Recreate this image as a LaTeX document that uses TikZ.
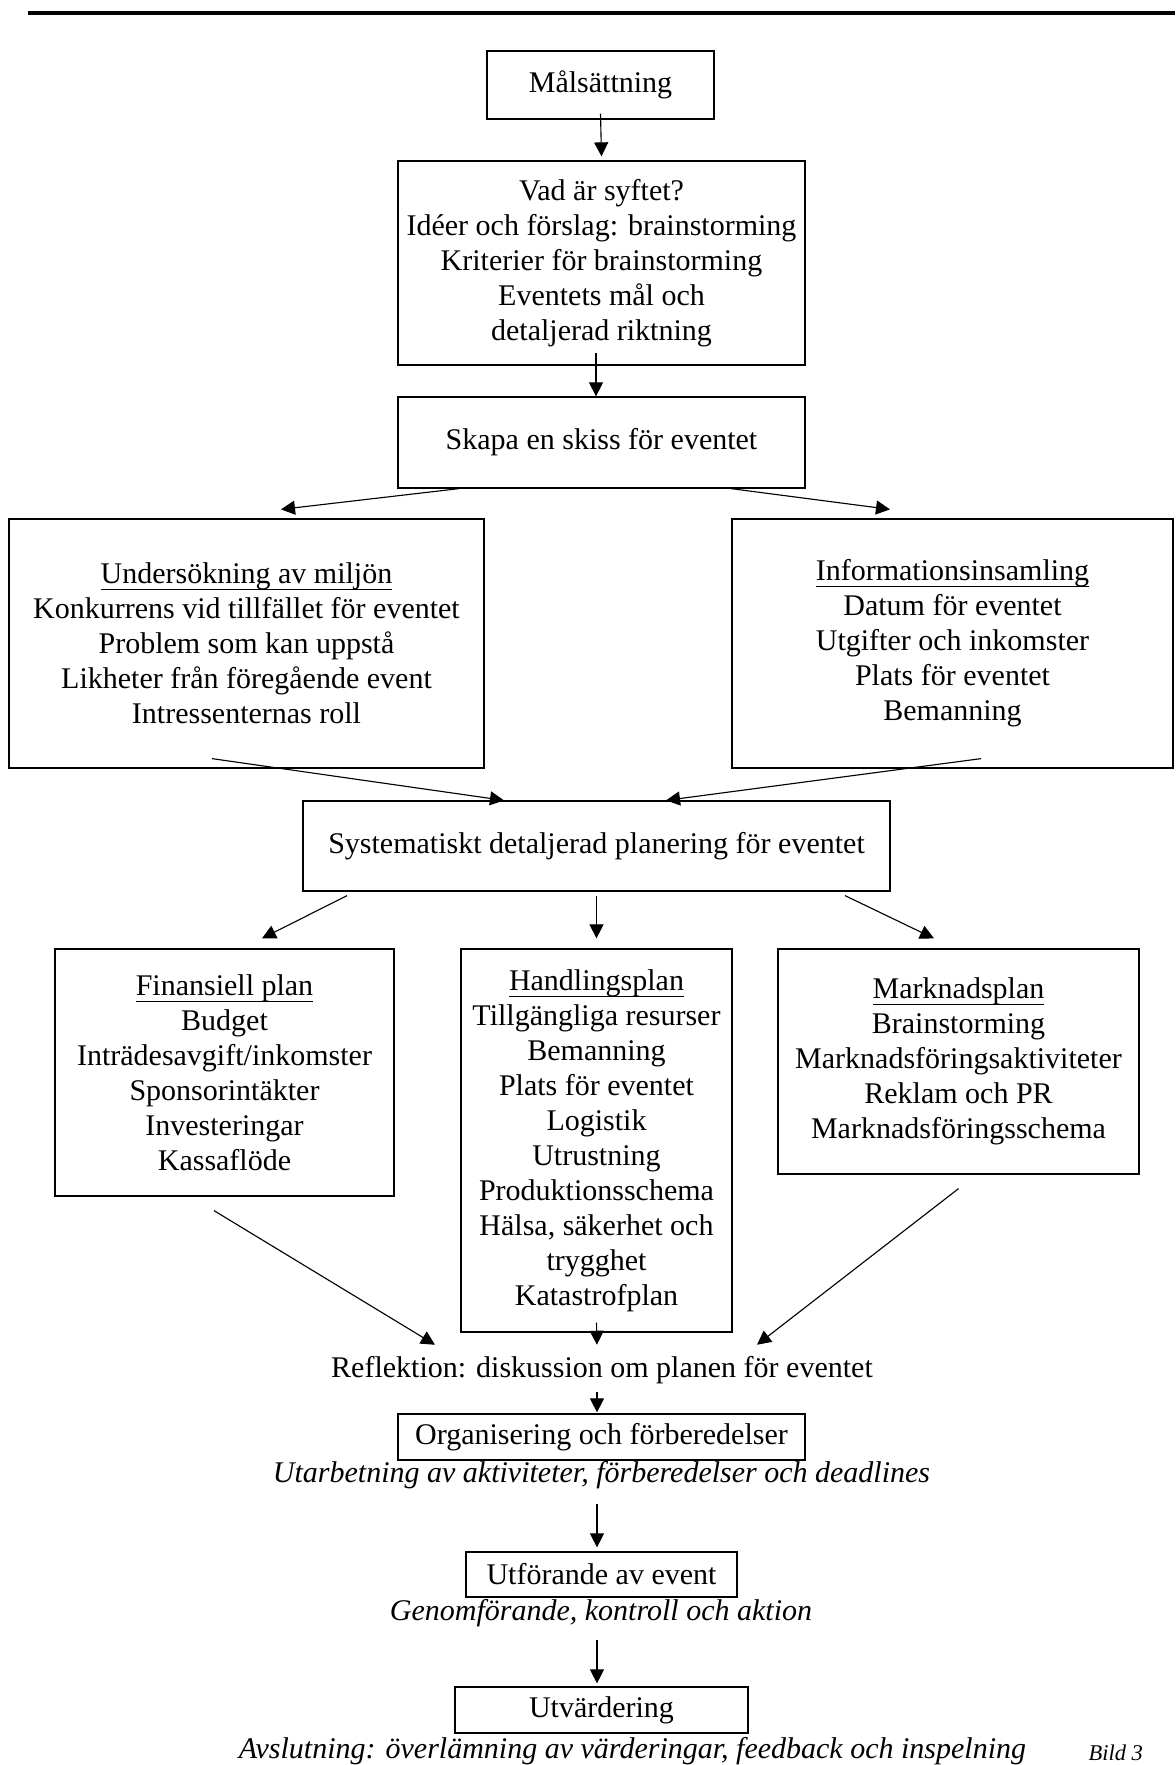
\documentclass[tikz,border=0pt]{standalone}
\usepackage{fontspec}
\setmainfont{Liberation Serif}
\usetikzlibrary{arrows.meta}
\newcommand{\hul}[1]{\setbox0\hbox{#1}\rlap{\rule[-2.6pt]{\wd0}{0.4pt}}\box0}

\begin{document}
\begin{tikzpicture}[x=0.4pt,y=-0.4pt,
  every node/.style={font=\fontsize{12pt}{14pt}\selectfont},
  box/.style={draw,line width=0.5pt,align=center,inner sep=0pt},
  note/.style={inner sep=0pt,font=\fontsize{12pt}{14pt}\selectfont\itshape},
  arr/.style={-{Triangle[length=5.6pt,width=5.6pt]},line width=0.45pt}]
\useasboundingbox (0,0) rectangle (1175,1765);

% header rule
\draw[line width=1.3pt] (28,13) -- (1175,13);

% aim and first sketch
\node[box,minimum width=90.8pt,minimum height=27.2pt] (mal) at (600.5,85) {Målsättning};
\node[box,minimum width=162.8pt,minimum height=81.6pt] (syfte) at (601.5,263)
  {Vad är syftet?\\Idéer och förslag: brainstorming\\Kriterier för brainstorming\\Eventets mål och\\detaljerad riktning};
\node[box,minimum width=162.8pt,minimum height=36.4pt] (skapa) at (601.5,442.5) {Skapa en skiss för eventet};

% research
\node[box,minimum width=190pt,minimum height=99.6pt] (miljo) at (246.5,643.5)
  {\hul{Undersökning av miljön}\\Konkurrens vid tillfället för eventet\\Problem som kan uppstå\\Likheter från föregående event\\Intressenternas roll};
\node[box,minimum width=176.4pt,minimum height=99.6pt] (info) at (952.5,643.5)
  {\hul{Informationsinsamling}\\Datum för eventet\\Utgifter och inkomster\\Plats för eventet\\Bemanning};

% detailed planning
\node[box,minimum width=234.8pt,minimum height=36pt] (plan) at (596.5,846) {Systematiskt detaljerad planering för eventet};
\node[box,minimum width=135.6pt,minimum height=98.8pt] (finans) at (224.5,1072.5)
  {\hul{Finansiell plan}\\Budget\\Inträdesavgift/inkomster\\Sponsorintäkter\\Investeringar\\Kassaflöde};
\node[box,minimum width=108.4pt,minimum height=153.2pt] (handling) at (596.5,1140.5)
  {\hul{Handlingsplan}\\Tillgängliga resurser\\Bemanning\\Plats för eventet\\Logistik\\Utrustning\\Produktionsschema\\Hälsa, säkerhet och\\trygghet\\Katastrofplan};
\node[box,minimum width=144.4pt,minimum height=90pt] (marknad) at (958.5,1061.5)
  {\hul{Marknadsplan}\\Brainstorming\\Marknadsföringsaktiviteter\\Reklam och PR\\Marknadsföringsschema};

% reflection and execution
\node[inner sep=0pt] (refl) at (602,1370) {Reflektion: diskussion om planen för eventet};
\node[box,minimum width=162.8pt,minimum height=18.4pt] (org) at (601.5,1437) {Organisering och förberedelser};
\node[note] (orgnote) at (601.5,1475) {Utarbetning av aktiviteter, förberedelser och deadlines};
\node[box,minimum width=108.4pt,minimum height=18pt] (utf) at (601.5,1574.5) {Utförande av event};
\node[note] (utfnote) at (601,1613) {Genomförande, kontroll och aktion};
\node[box,minimum width=117.2pt,minimum height=18.4pt] (utv) at (601.5,1710) {Utvärdering};
\node[note,anchor=base] (utvnote) at (632.5,1758) {Avslutning: överlämning av värderingar, feedback och inspelning};
\node[note,anchor=base west,font=\fontsize{9pt}{11pt}\selectfont\itshape] (bild) at (1088,1760) {Bild 3};

% arrows
\draw[arr] ([yshift=2.4pt]mal.south) -- ([yshift=1.6pt]syfte.north);
\draw[arr] ([xshift=-2.2pt,yshift=5.2pt]syfte.south) -- ([xshift=-2.2pt]skapa.north);
\draw[arr] ([xshift=-57pt]skapa.south) -- ([xshift=13.8pt,yshift=3.6pt]miljo.north);
\draw[arr] ([xshift=51.8pt]skapa.south) -- ([xshift=-25pt,yshift=3.6pt]info.north);
\draw[arr] ([xshift=-13.8pt,yshift=4pt]miljo.south) -- ([xshift=-37pt]plan.north);
\draw[arr] ([xshift=11.4pt,yshift=4pt]info.south) -- ([xshift=27.8pt]plan.north);
\draw[arr] ([xshift=-99.8pt,yshift=-1.6pt]plan.south) -- ([xshift=15pt,yshift=4pt]finans.north);
\draw[arr] ([yshift=-1.6pt]plan.south) -- ([yshift=4pt]handling.north);
\draw[arr] ([xshift=99.4pt,yshift=-1.6pt]plan.south) -- ([xshift=-9.8pt,yshift=4pt]marknad.north);
\draw[arr] ([xshift=-4.2pt,yshift=-5.6pt]finans.south) -- ([xshift=-66.8pt,yshift=4.4pt]refl.north);
\draw[arr] ([yshift=4pt]handling.south) -- ([xshift=-2pt,yshift=4.4pt]refl.north);
\draw[arr] ([yshift=-5.6pt]marknad.south) -- ([xshift=62pt,yshift=4.4pt]refl.north);
\draw[arr] ([xshift=-2pt,yshift=-3pt]refl.south) -- ([xshift=-1.8pt,yshift=0.4pt]org.north);
\draw[arr] ([xshift=-1.8pt,yshift=-5.8pt]orgnote.south) -- ([xshift=-1.8pt,yshift=1.6pt]utf.north);
\draw[arr] ([xshift=-1.6pt,yshift=-5pt]utfnote.south) -- ([xshift=-1.8pt,yshift=1.2pt]utv.north);

\end{tikzpicture}
\end{document}
